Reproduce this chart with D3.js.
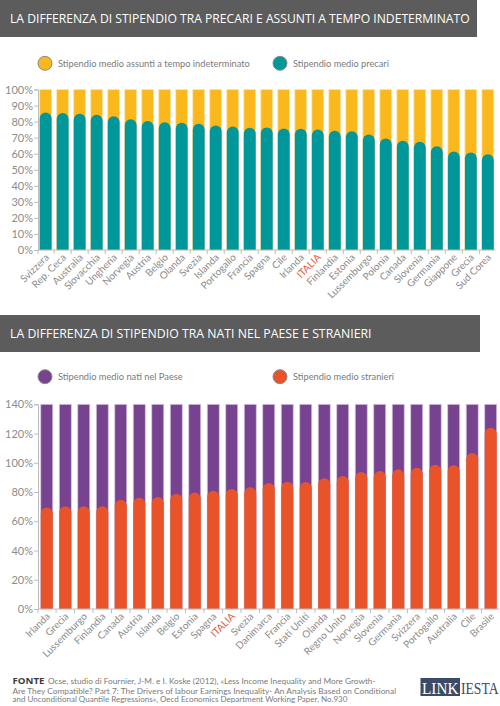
<!DOCTYPE html>
<html>
<head>
<meta charset="utf-8">
<script src="https://cdn.jsdelivr.net/npm/d3@7/dist/d3.min.js"></script>
<style>
  html, body { margin: 0; padding: 0; background: #fff; }
  svg { display: block; font-family: Lato, "Open Sans", sans-serif; }
</style>
</head>
<body>
<svg id="chart" width="500" height="706"></svg>
<script>
// ---------- DATA ----------
const title1 = "LA DIFFERENZA DI STIPENDIO TRA PRECARI E ASSUNTI A TEMPO INDETERMINATO";
const legend1 = ["Stipendio medio assunti a tempo indeterminato", "Stipendio medio precari"];
const countries1 = ["Svizzera","Rep. Ceca","Australia","Slovacchia","Ungheria","Norvegia","Austria","Belgio","Olanda","Svezia","Islanda","Portogallo","Francia","Spagna","Cile","Irlanda","ITALIA","Finlandia","Estonia","Lussemburgo","Polonia","Canada","Slovenia","Germania","Giappone","Grecia","Sud Corea"];
const precari = [85.6,85.3,84.9,84.3,83.3,81.5,80.3,79.6,79.3,78.6,77.6,77.0,76.2,76.4,75.7,75.5,75.1,74.3,74.0,72.0,69.5,68.0,67.4,64.7,61.4,60.8,59.7];
const indeterminato1 = countries1.map(() => 100);
const ticks1 = [0,10,20,30,40,50,60,70,80,90,100];

const title2 = "LA DIFFERENZA DI STIPENDIO TRA NATI NEL PAESE E STRANIERI";
const legend2 = ["Stipendio medio nati nel Paese", "Stipendio medio stranieri"];
const countries2 = ["Irlanda","Grecia","Lussemburgo","Finlandia","Canada","Austria","Islanda","Belgio","Estonia","Spagna","ITALIA","Svezia","Danimarca","Francia","Stati Uniti","Olanda","Regno Unito","Norvegia","Slovenia","Germania","Svizzera","Portogallo","Australia","Cile","Brasile"];
const stranieri = [69.5,70.2,70.2,70.2,74.8,76.1,76.6,78.9,79.6,80.9,82.1,83.2,86.2,87.1,86.9,89.4,91.0,93.7,94.4,95.5,96.6,98.7,98.3,106.7,124.0];
const nati = countries2.map(() => 140);
const ticks2 = [0,20,40,60,80,100,120,140];

const sourceLines = [
  "Ocse, studio di Fournier, J-M. e I. Koske (2012), «Less Income Inequality and More Growth-",
  "Are They Compatible? Part 7: The Drivers of labour Earnings Inequality- An Analysis Based on Conditional",
  "and Unconditional Quantile Regressions», Oecd Economics Department Working Paper, No.930"
];

// ---------- DRAW ----------
const svg = d3.select("#chart");
const highlight = "#e8553a";

// Put text at (x,y) and horizontally scale it so its width is w
function fitText(parent, x, y, w, str, attrs) {
  const t = parent.append("text").attr("x", 0).attr("y", 0);
  Object.entries(attrs).forEach(([k, v]) => t.attr(k, v));
  t.text(str);
  const natural = t.node().getComputedTextLength();
  const sx = natural > 0 ? w / natural : 1;
  t.attr("transform", `translate(${x},${y}) scale(${sx},1)`);
  return t;
}

function banner(y, h, w, text, textW) {
  svg.append("rect").attr("x", 0).attr("y", y).attr("width", w).attr("height", h).attr("fill", "#5b5c5b");
  fitText(svg, 10, y + h / 2 + 4.5, textW, text,
    { fill: "#fff", "font-size": 13, "font-family": "'Open Sans', sans-serif" });
}

function legend(y, items, colors, widths) {
  const xs = [45, 280];
  items.forEach((t, i) => {
    svg.append("circle").attr("cx", xs[i]).attr("cy", y).attr("r", 7)
      .attr("fill", colors[i]).attr("stroke", "#8a8a8a").attr("stroke-width", 1);
    fitText(svg, xs[i] + 13, y + 3.3, widths[i], t, { fill: "#7a7a7a", "font-size": 9.5 });
  });
}

function barChart(opts) {
  const { cats, back, front, yMax, ticks, yTop, yBottom, xRange, backColor, backStroke, frontColor, pi, po } = opts;
  const x = d3.scaleBand().domain(cats).range(xRange).paddingInner(pi).paddingOuter(po);
  const y = d3.scaleLinear().domain([0, yMax]).range([yBottom, yTop]);
  const g = svg.append("g");
  const bw = x.bandwidth();
  const r = bw / 2;

  // background bars
  g.selectAll(".back").data(cats).enter().append("rect")
    .attr("x", d => x(d)).attr("width", bw)
    .attr("y", (d, i) => y(back[i])).attr("height", (d, i) => y(0) - y(back[i]))
    .attr("fill", backColor).attr("stroke", backStroke).attr("stroke-width", 0.8);

  // foreground bars with rounded tops
  g.selectAll(".front").data(cats).enter().append("path")
    .attr("d", (d, i) => {
      const x0 = x(d), yt = y(front[i]), y0 = y(0);
      return `M${x0},${y0} L${x0},${yt + r} A${r},${r} 0 0 1 ${x0 + bw},${yt + r} L${x0 + bw},${y0} Z`;
    })
    .attr("fill", frontColor);

  // y axis
  const yAxis = g.append("g").attr("transform", `translate(${xRange[0]},0)`)
    .call(d3.axisLeft(y).tickValues(ticks).tickSize(4).tickFormat(d => d + "%"));
  yAxis.select(".domain").attr("stroke", "#bdbdbd");
  yAxis.selectAll(".tick line").attr("stroke", "#bdbdbd");
  yAxis.selectAll(".tick text").attr("fill", "#8c8c8c").attr("font-size", 11)
    .attr("font-family", "Lato, sans-serif").attr("x", -5);

  // x axis
  const xAxis = g.append("g").attr("transform", `translate(0,${y(0)})`)
    .call(d3.axisBottom(x).tickSize(0).tickPadding(0));
  xAxis.select(".domain").attr("stroke", "#bdbdbd").attr("d", `M${xRange[0]},0H${xRange[1]}`);
  const step = x.step();
  const bounds = [xRange[0]].concat(cats.slice(1).map(c => x(c) - (step - bw) / 2));
  xAxis.selectAll(".bound").data(bounds).enter().append("line")
    .attr("x1", d => d).attr("x2", d => d).attr("y1", 0).attr("y2", 4).attr("stroke", "#bdbdbd");
  xAxis.selectAll(".tick text")
    .attr("text-anchor", "end")
    .attr("font-size", 10).attr("font-family", "Lato, sans-serif")
    .attr("fill", d => d === "ITALIA" ? highlight : "#8c8c8c")
    .attr("dy", 0).attr("y", 0)
    .attr("transform", "translate(4,8) rotate(-45)");
}

// Chart 1
banner(0, 37, 477, title1, 460);
legend(63.3, legend1, ["#fab81c", "#00979a"], [192, 96]);
barChart({
  cats: countries1, back: indeterminato1, front: precari, yMax: 100, ticks: ticks1,
  yTop: 89.5, yBottom: 250, xRange: [38, 495.5],
  backColor: "#fab81c", backStroke: "#fde6a8", frontColor: "#00979a", pi: 0.3, po: 0.1
});

// Chart 2
banner(315, 37, 480, title2, 362);
legend(376.7, legend2, ["#77428f", "#e9532a"], [125, 101]);
barChart({
  cats: countries2, back: nati, front: stranieri, yMax: 140, ticks: ticks2,
  yTop: 404.3, yBottom: 609, xRange: [38, 499.5],
  backColor: "#77428f", backStroke: "#d7c5e0", frontColor: "#e9532a", pi: 0.35, po: 0.15
});

// Footer
const foot = svg.append("g");
fitText(foot, 12.5, 684, 32, "FONTE",
  { "font-size": 9.5, fill: "#3c3c3c", "font-weight": "bold", "font-family": "'Open Sans', sans-serif" });
const lineX = [48, 12.5, 12.5];
const lineY = [684, 693.6, 702.2];
const lineW = [328, 384, 336];
sourceLines.forEach((t, i) => {
  fitText(foot, lineX[i], lineY[i], lineW[i], t, { "font-size": 7, fill: "#7a7a7a" });
});
// Logo
foot.append("rect").attr("x", 420.5).attr("y", 678).attr("width", 39.5).attr("height", 18).attr("fill", "#3b4a66");
fitText(foot, 422, 694, 36.5, "LINK",
  { "font-family": "'Liberation Serif', 'DejaVu Serif', serif", "font-size": 16, fill: "#fff" });
fitText(foot, 461, 694, 37.5, "IESTA",
  { "font-family": "'Liberation Serif', 'DejaVu Serif', serif", "font-size": 16, fill: "#3b4a66" });
</script>
</body>
</html>
